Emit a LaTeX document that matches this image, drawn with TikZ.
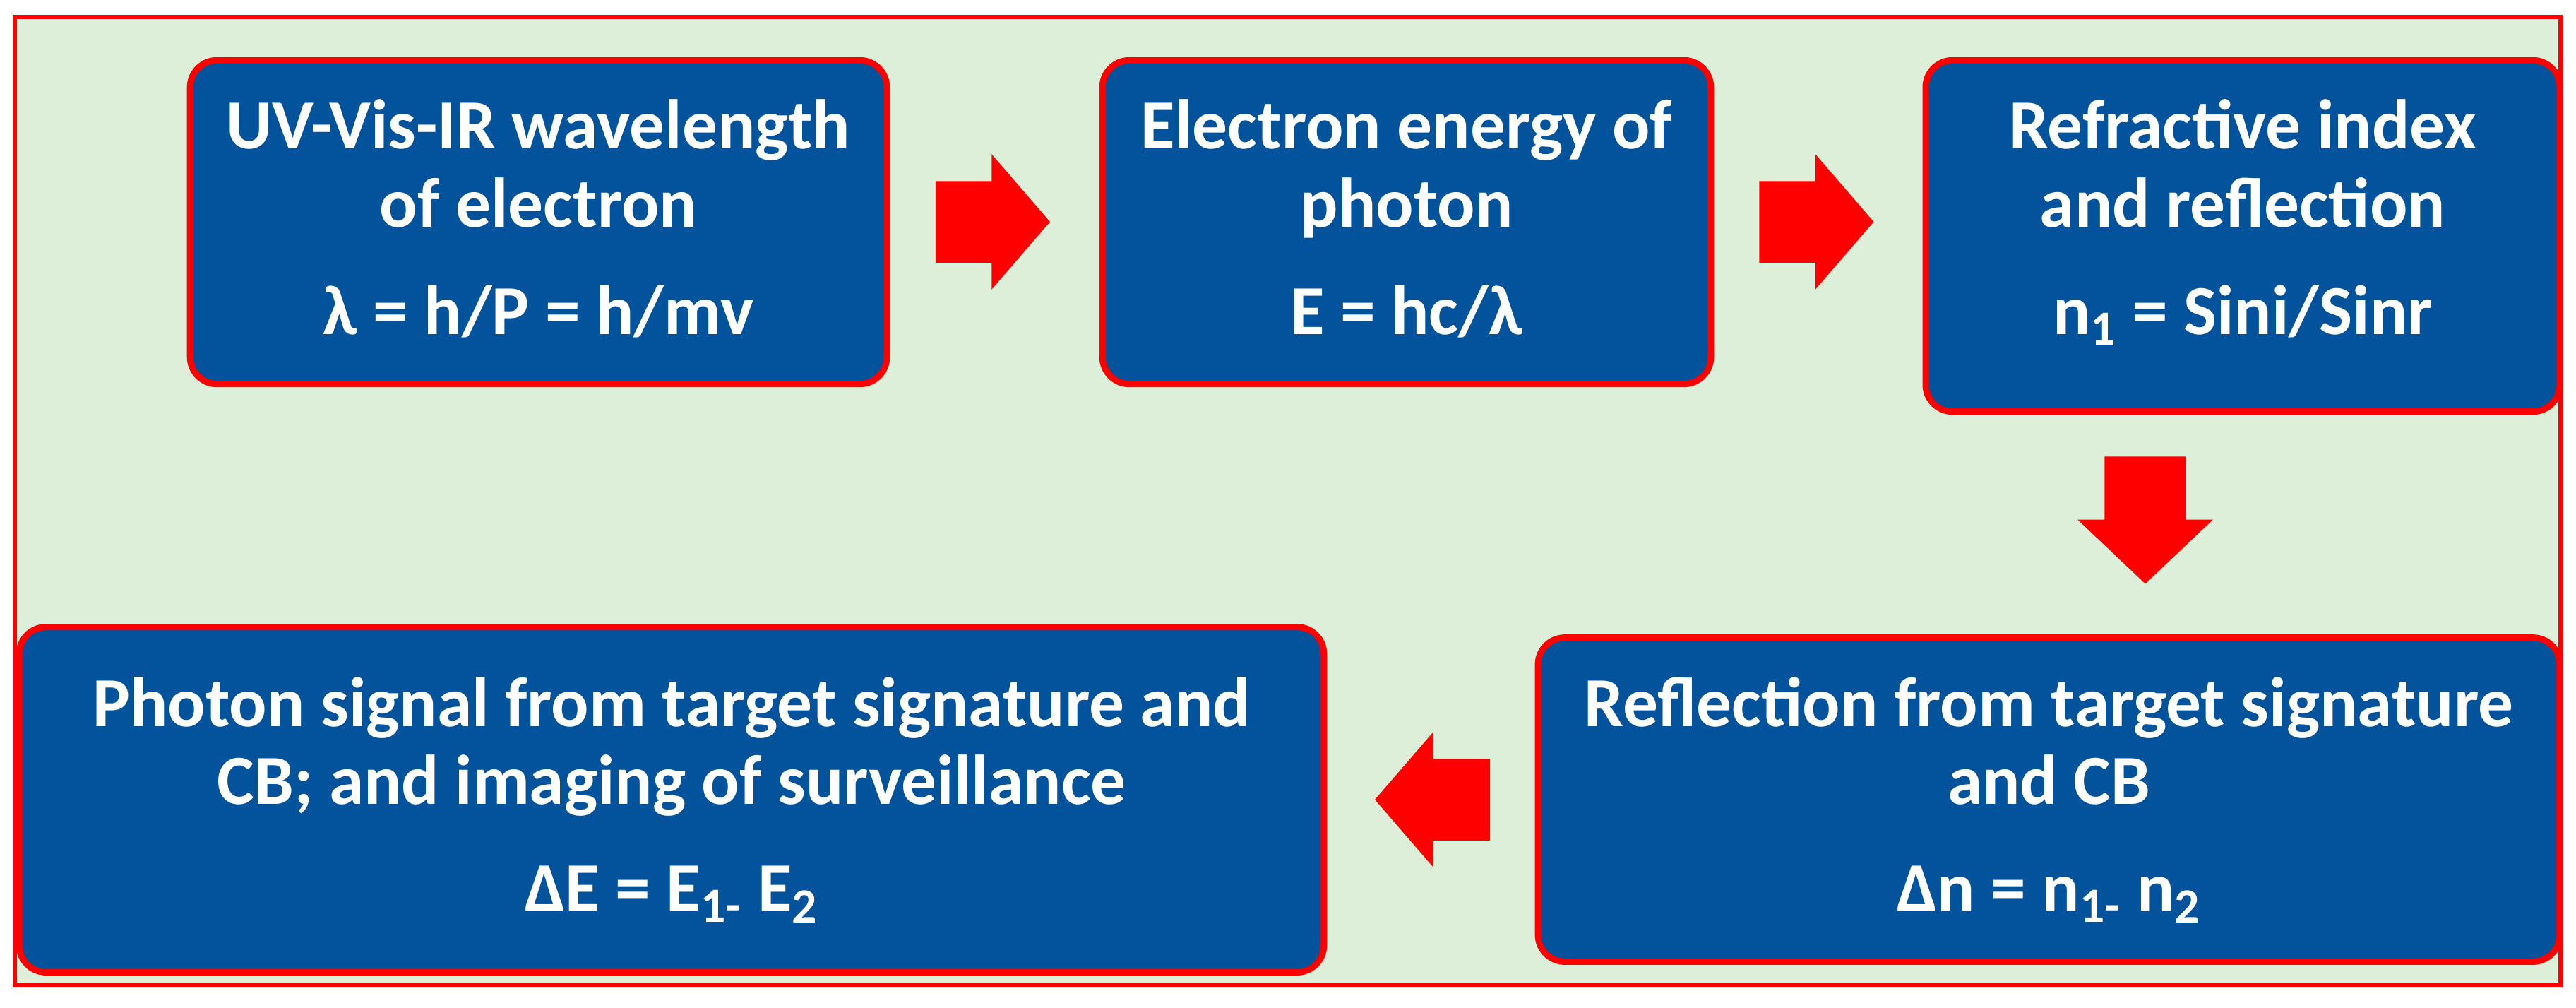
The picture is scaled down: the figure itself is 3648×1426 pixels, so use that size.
\documentclass[tikz,border=0pt]{standalone}
\usepackage{fontspec}
\setmainfont{Carlito}
\usetikzlibrary{shapes.arrows}
\definecolor{boxblue}{RGB}{2,83,155}
\definecolor{paleback}{RGB}{221,239,217}
\begin{document}
\begin{tikzpicture}[x=0.01cm,y=-0.01cm] % pixel grid, y downwards
\tikzstyle{stage} = [draw=red, line width=0.09cm, fill=boxblue, rounded corners=0.38cm, text=white, align=center, inner sep=0pt, font=\fontsize{28.3pt}{31.3pt}\selectfont\bfseries, text height=3.42cm, text depth=0.25cm] % step box
\tikzstyle{flow} = [single arrow, fill=red, inner xsep=0pt, inner ysep=0.57cm, single arrow head extend=0.38cm, single arrow tip angle=98.4, minimum height=1.62cm] % block arrow
\useasboundingbox (0,0) rectangle (3648,1426);
\draw[red, line width=0.06cm, fill=paleback] (21,24) rectangle (3626,1394); % frame

\node[stage, minimum width=9.86cm, minimum height=4.58cm] (wave) at (762.5,314.5) {UV-Vis-IR wavelength\\ of electron\\[0.42cm] λ = h/P = h/mv};
\node[stage, minimum width=8.61cm, minimum height=4.58cm] (energy) at (1992,314.5) {Electron energy of\\ photon\\[0.42cm] E = hc/λ};
\node[stage, minimum width=8.975cm, minimum height=4.97cm, text height=3.03cm] (index) at (3176,334) {Refractive index\\ and reflection\\[0.42cm] n\textsubscript{1} = Sini/Sinr};
\node[stage, minimum width=14.46cm, minimum height=4.585cm] (reflect) at (2901.5,1132) {Reflection from target signature\\ and CB\\[0.42cm] Δn = n\textsubscript{1-} n\textsubscript{2}};
\node[stage, minimum width=18.465cm, minimum height=4.885cm] (signal) at (951,1132) {Photon signal from target signature and\\ CB; and imaging of surveillance\\[0.42cm] ΔE = E\textsubscript{1-} E\textsubscript{2}};

\node[flow] (wave-energy) at (1381,314) {};
\node[flow] (energy-index) at (2547.5,314) {};
\node[flow, rotate=-90, single arrow tip angle=93.1, minimum height=1.8cm] (index-reflect) at (3038,709) {};
\node[flow, rotate=180, minimum height=1.63cm] (reflect-signal) at (2053.5,1132) {};
\end{tikzpicture}
\end{document}
